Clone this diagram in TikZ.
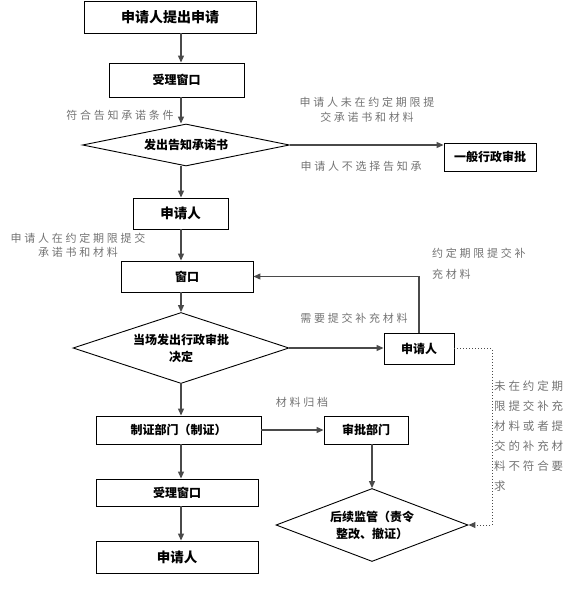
\documentclass[tikz,border=0pt]{standalone}
\usepackage{fontspec}
\usepackage{xcolor}
\usetikzlibrary{arrows.meta,shapes.geometric}
\setmainfont{Noto Sans CJK SC}
\newfontfamily\notefont[LetterSpace=25]{Noto Sans CJK SC}
\definecolor{flowline}{HTML}{4A4A4A}
\definecolor{notegray}{HTML}{737373}
\tikzset{
  stepbox/.style={draw=black, line width=0.9pt, fill=white, inner sep=0pt, align=center, font=\bfseries\fontsize{12}{15}\selectfont},
  decision/.style={diamond, draw=black, line width=0.9pt, fill=white, inner sep=0pt, align=center, font=\bfseries\fontsize{12}{17}\selectfont},
  flow/.style={flowline, line width=1.2pt, -{Triangle[length=7pt,width=6pt]}},
  dotflow/.style={flowline, line width=1pt, dotted, -{Triangle[length=7pt,width=6pt]}},
  note/.style={notegray, inner sep=0pt, align=center, font={\notefont\fontsize{11}{15}\selectfont}}
}

\begin{document}
\begin{tikzpicture}[x=1pt,y=-1pt]
  \useasboundingbox (0,0) rectangle (573,609);
  \coordinate (spine) at (181,0);
  % main column
  \node[stepbox, minimum width=172pt, minimum height=32pt, font=\bfseries\fontsize{14}{16}\selectfont] (apply) at (170,17) {申请人提出申请};
  \node[stepbox, minimum width=135pt, minimum height=34pt] (accept) at (176.5,80) {受理窗口};
  \node[decision, shape aspect=4.9, minimum width=207pt, minimum height=42pt] (notify) at (186,145) {发出告知承诺书};
  \node[stepbox, minimum width=95pt, minimum height=31pt, font=\bfseries\fontsize{13.5}{16}\selectfont] (applicant) at (180.5,213.5) {申请人};
  \node[stepbox, minimum width=132pt, minimum height=31pt] (window) at (187,276.5) {窗口};
  \node[decision, shape aspect=3, minimum width=216pt, minimum height=71pt] (decide) at (181,348) {当场发出行政审批\\决定};
  \node[stepbox, minimum width=165pt, minimum height=28pt] (license) at (178.5,430) {制证部门（制证）};
  \node[stepbox, minimum width=162pt, minimum height=27pt] (accepttwo) at (177,492.5) {受理窗口};
  \node[stepbox, minimum width=162pt, minimum height=32pt, font=\bfseries\fontsize{13.5}{16}\selectfont] (result) at (177,557) {申请人};
  % right side
  \node[stepbox, minimum width=92pt, minimum height=28pt] (general) at (490,157) {一般行政审批};
  \node[stepbox, minimum width=70pt, minimum height=31pt] (supplier) at (419,348.5) {申请人};
  \node[stepbox, minimum width=84pt, minimum height=28pt] (approve) at (366,430) {审批部门};
  \node[decision, shape aspect=2.6, minimum width=192pt, minimum height=73pt] (supervise) at (372,525) {后续监管（责令\\整改、撤证）};

  % connectors
  \draw[flow] (apply.south -| spine) -- (accept.north -| spine);
  \draw[flow] (accept.south -| spine) -- (notify.north -| spine);
  \draw[flow] (notify.south -| spine) -- (applicant.north -| spine);
  \draw[flow] (applicant.south -| spine) -- (window.north -| spine);
  \draw[flow] (window.south -| spine) -- (decide.north -| spine);
  \draw[flow] (decide.south -| spine) -- (license.north -| spine);
  \draw[flow] (license.south -| spine) -- (accepttwo.north -| spine);
  \draw[flow] (accepttwo.south -| spine) -- (result.north -| spine);
  \draw[flow] (notify.east) -- (notify.east -| general.west);
  \draw[flow] (decide.east) -- (decide.east -| supplier.west);
  \draw[flow] (supplier.north) |- (window.east);
  \draw[flow] (license.east) -- (license.east -| approve.west);
  \draw[flow] (approve.south -| supervise) -- (supervise.north);
  \coordinate (lapse) at (492,348.5);
  \draw[dotflow] (supplier.east) -- (lapse) |- (supervise.east);

  % labels
  \node[note] (qualify) at (120,115) {符合告知承诺条件};
  \node[note] (overdue) at (367,110) {申请人未在约定期限提\\交承诺书和材料};
  \node[note] (optout) at (361,166) {申请人不选择告知承};
  \node[note, font={\notefont\fontsize{11}{14}\selectfont}] (ontime) at (78,245) {申请人在约定期限提交\\承诺书和材料};
  \node[note, anchor=north west, align=left, font={\notefont\fontsize{11}{21}\selectfont}] (resubmit) at (432,248) {约定期限提交补\\充材料};
  \node[note] (needmore) at (354,318) {需要提交补充材料};
  \node[note] (archive) at (302,402) {材料归档};
  \node[note, anchor=north west, align=left, font={\notefont\fontsize{11.5}{20}\selectfont}] (failnote) at (494,381) {未在约定期\\限提交补充\\材料或者提\\交的补充材\\料不符合要\\求};
\end{tikzpicture}
\end{document}
